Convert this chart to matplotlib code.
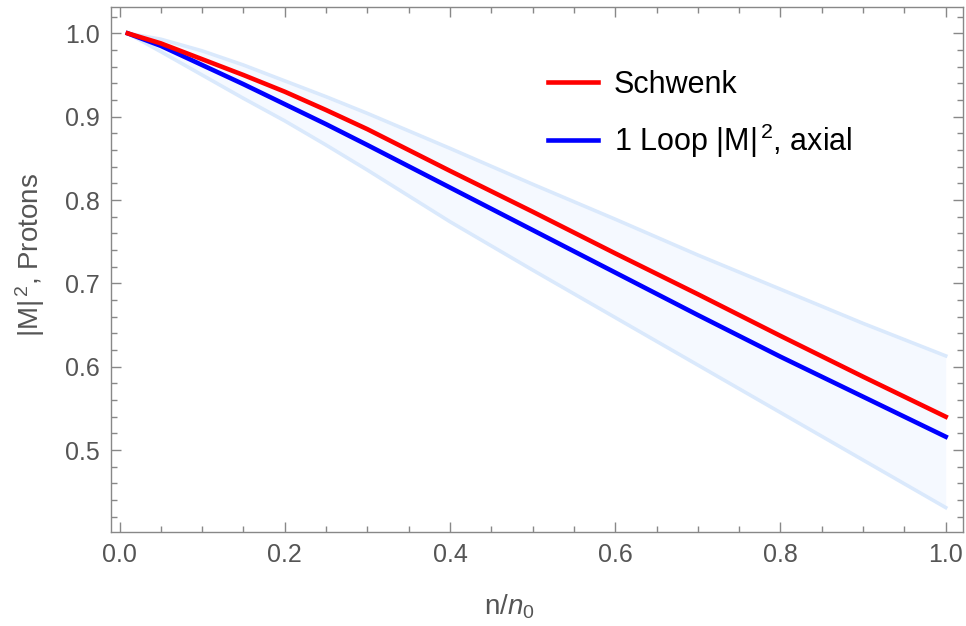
import matplotlib
matplotlib.use("Agg")
import matplotlib.pyplot as plt
from matplotlib.ticker import MultipleLocator

plt.rcParams['font.family'] = ['Liberation Sans', 'DejaVu Sans']
plt.rcParams['mathtext.fontset'] = 'custom'
plt.rcParams['mathtext.rm'] = 'Liberation Sans'
plt.rcParams['mathtext.it'] = 'Liberation Sans:italic'

# data
n = [0.01, 0.05, 0.1, 0.15, 0.2, 0.25, 0.3, 0.4, 0.5, 0.6, 0.7, 0.8, 0.9, 1.0]
schwenk = [1.0, 0.988, 0.969, 0.950, 0.930, 0.908, 0.885, 0.835, 0.786, 0.736, 0.687, 0.637, 0.588, 0.540]
loop_axial = [1.0, 0.985, 0.962, 0.939, 0.915, 0.891, 0.866, 0.815, 0.764, 0.713, 0.662, 0.612, 0.564, 0.516]
band_upper = [1.0, 0.993, 0.979, 0.962, 0.943, 0.924, 0.904, 0.862, 0.819, 0.777, 0.734, 0.693, 0.652, 0.613]
band_lower = [1.0, 0.978, 0.950, 0.922, 0.895, 0.866, 0.836, 0.774, 0.716, 0.659, 0.602, 0.545, 0.488, 0.431]

xticks = [0.0, 0.2, 0.4, 0.6, 0.8, 1.0]
yticks = [0.5, 0.6, 0.7, 0.8, 0.9, 1.0]

fig = plt.figure(figsize=(9.66, 6.26), dpi=100)
ax = fig.add_axes([0.1146, 0.1506, 0.882, 0.8387])

band_edge = '#dae9fc'
band_fill = '#f5f9ff'
ax.fill_between(n, band_lower, band_upper, color=band_fill, lw=0, zorder=1)
ax.plot(n, band_upper, color=band_edge, lw=2.6, zorder=2, solid_joinstyle='round')
ax.plot(n, band_lower, color=band_edge, lw=2.6, zorder=2, solid_joinstyle='round')

ax.plot(n, schwenk, color='#ff0000', lw=3.3, label='Schwenk', zorder=4, solid_joinstyle='round')
ax.plot(n, loop_axial, color='#0000ff', lw=3.3, label=r'1 Loop |M|$^{\,2}$, axial', zorder=3,
        solid_joinstyle='round')

ax.set_xlim(-0.0107, 1.0206)
ax.set_ylim(0.402, 1.032)
ax.set_xticks(xticks)
ax.set_yticks(yticks)
ax.set_xticklabels([f'{v:.1f}' for v in xticks])
ax.set_yticklabels([f'{v:.1f}' for v in yticks])
ax.xaxis.set_minor_locator(MultipleLocator(0.05))
ax.yaxis.set_minor_locator(MultipleLocator(0.02))

gray = '#888888'
for s in ax.spines.values():
    s.set_color(gray)
    s.set_linewidth(1.0)
ax.tick_params(which='both', direction='in', top=True, right=True, color=gray,
               labelcolor='#555555', labelsize=18, width=1.0)
ax.tick_params(which='major', length=7.2, pad=8)
ax.tick_params(which='minor', length=4.3)

ax.set_xlabel(r'n/$n_0$', fontsize=20, color='#555555')
ax.xaxis.set_label_coords(0.4675, -0.143)
ax.xaxis.label.set_va('center')
ax.set_ylabel(r'|M|$^{\,2}$, Protons', fontsize=20, color='#555555')
ax.yaxis.set_label_coords(-0.0947, 0.527)
ax.yaxis.label.set_va('center')

leg = ax.legend(loc='center left', bbox_to_anchor=(0.481, 0.794), frameon=False,
                fontsize=22, handlelength=1.65, handletextpad=0.5, labelspacing=0.72)

fig.savefig('out.png', dpi=100)
